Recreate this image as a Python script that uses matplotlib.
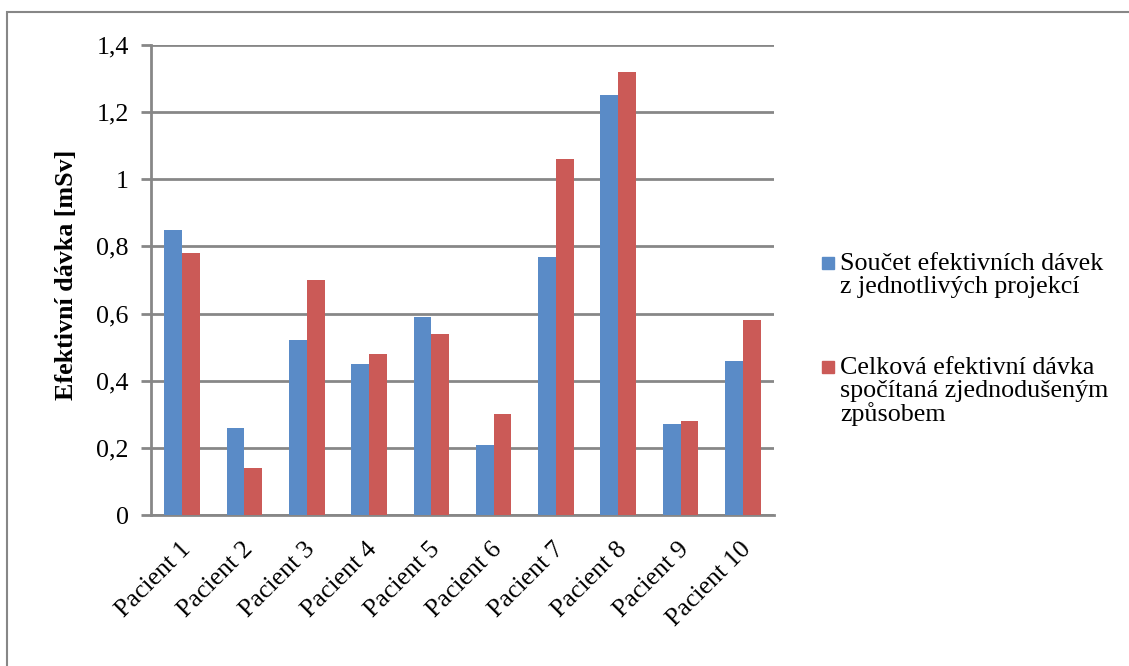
import numpy as np
import matplotlib
matplotlib.use('Agg')
import matplotlib.pyplot as plt
import matplotlib.transforms as mtransforms
from matplotlib.patches import Rectangle
from matplotlib.ticker import FuncFormatter

# data
patients = ['Pacient 1', 'Pacient 2', 'Pacient 3', 'Pacient 4', 'Pacient 5',
            'Pacient 6', 'Pacient 7', 'Pacient 8', 'Pacient 9', 'Pacient 10']
soucet = [0.85, 0.26, 0.52, 0.45, 0.59, 0.21, 0.77, 1.25, 0.27, 0.46]
celkova = [0.78, 0.14, 0.70, 0.48, 0.54, 0.30, 1.06, 1.32, 0.28, 0.58]
series_names = ['Součet efektivních dávek\nz jednotlivých projekcí',
                'Celková efektivní dávka\nspočítaná zjednodušeným\nzpůsobem']
y_ticks = [0, 0.2, 0.4, 0.6, 0.8, 1.0, 1.2, 1.4]

blue = '#5A8BC7'
red = '#CB5A57'
grey = '#878787'
W, H = 1129, 666

plt.rcParams['font.family'] = ['Liberation Serif', 'DejaVu Serif']
plt.rcParams['font.size'] = 18.7

fig = plt.figure(figsize=(W / 100, H / 100), dpi=100)
ax = fig.add_axes([151 / W, 1 - 515 / H, (774 - 151) / W, (515 - 45) / H])

# outer chart border (only top and left fall inside the picture)
fig.patches.append(Rectangle((7 / W, -0.1), 1.2, 1 - 12 / H + 0.1,
                             transform=fig.transFigure, fill=False,
                             edgecolor=grey, linewidth=1.5))

x = np.arange(len(patients))
w = 1 / 3.5
ax.bar(x - w / 2, soucet, w, color=blue, zorder=3)
ax.bar(x + w / 2, celkova, w, color=red, zorder=3)

ax.set_xlim(-0.5, len(patients) - 0.5)
ax.set_ylim(0, 1.4)
ax.set_yticks(y_ticks)
ax.yaxis.set_major_formatter(FuncFormatter(lambda v, p: ('%g' % round(v, 1)).replace('.', ',')))
ax.yaxis.grid(True, color=grey, linewidth=2, zorder=0)
ax.tick_params(axis='y', length=7, width=2, color=grey, pad=9)
ax.tick_params(axis='x', length=0, pad=22)

ax.set_xticks(x)
ax.set_xticklabels(patients, rotation=45, ha='right', va='center', rotation_mode='anchor')
shift = mtransforms.ScaledTranslation(0.05, 0, fig.dpi_scale_trans)
for lab in ax.get_xticklabels():
    lab.set_transform(lab.get_transform() + shift)

for s in ['top', 'right']:
    ax.spines[s].set_visible(False)
for s in ['left', 'bottom']:
    ax.spines[s].set_color(grey)
    ax.spines[s].set_linewidth(2)

ax.set_ylabel('Efektivní dávka [mSv]', fontweight='bold')
ax.yaxis.set_label_coords(78 / W, 1 - 275 / H, transform=fig.transFigure)

# legend: square marker beside the first line of each entry
legend_colors = [blue, red]
legend_tops = [253, 357]
for name, col, top in zip(series_names, legend_colors, legend_tops):
    fig.patches.append(Rectangle((822 / W, 1 - (top + 16) / H), 12 / W, 12 / H,
                                 transform=fig.transFigure, color=col))
    fig.text(840 / W, 1 - top / H, name, ha='left', va='top', linespacing=1.03)

fig.savefig('out.png', dpi=100)
